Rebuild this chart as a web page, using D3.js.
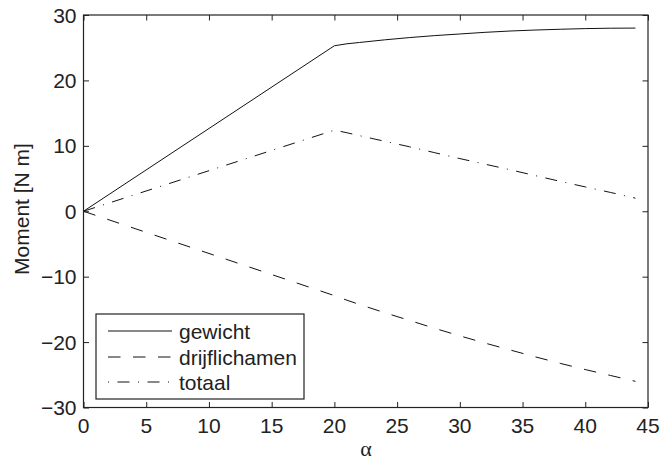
<!DOCTYPE html>
<html>
<head>
<meta charset="utf-8">
<script src="https://cdn.jsdelivr.net/npm/d3@7"></script>
<style>
  html, body { margin: 0; padding: 0; background: #fff; }
  svg { display: block; }
  text { font-family: "Liberation Sans", Arial, Helvetica, sans-serif; fill: #222; }
</style>
</head>
<body>
<svg id="chart" width="662" height="460"></svg>
<script>
// Moment as a function of the angle alpha
const alpha        = [0, 20, 21, 22, 24, 26, 28, 30, 32, 34, 36, 38, 40, 42, 44];
const gewicht      = [0, 25.3, 25.6, 25.8, 26.2, 26.55, 26.85, 27.1, 27.35, 27.55, 27.7, 27.82, 27.92, 27.98, 28.0];
const drijflichamen= [0, -12.9, -13.6, -14.25, -15.5, -16.7, -17.9, -19.05, -20.15, -21.2, -22.25, -23.25, -24.2, -25.1, -26.0];
const totaal       = [0, 12.4, 12.0, 11.55, 10.7, 9.85, 8.95, 8.05, 7.2, 6.35, 5.45, 4.57, 3.72, 2.88, 2.0];

const xTicks = [0, 5, 10, 15, 20, 25, 30, 35, 40, 45];
const yTicks = [-30, -20, -10, 0, 10, 20, 30];

const seriesNames = ["gewicht", "drijflichamen", "totaal"];
const seriesValues = [gewicht, drijflichamen, totaal];
const seriesDash = [null, "12.5,12.5", "12,8.5,1,8.5"];

const svg = d3.select("#chart");
const pLeft = 83.5, pRight = 648, pTop = 15, pBottom = 407.5;

const x = d3.scaleLinear().domain([0, 45]).range([pLeft, pRight]);
const y = d3.scaleLinear().domain([-30, 30]).range([pBottom, pTop]);

const fmt = v => (v < 0 ? "\u2212" + Math.abs(v) : String(v));
const tickLen = 5.5;
const axisColor = "#222";

// plot lines (clipped to the axes box)
svg.append("clipPath").attr("id", "plotclip")
  .append("rect").attr("x", pLeft).attr("y", pTop)
  .attr("width", pRight - pLeft).attr("height", pBottom - pTop);

const line = d3.line()
  .x((d, i) => x(alpha[i]))
  .y(d => y(d));

const plot = svg.append("g").attr("clip-path", "url(#plotclip)");
seriesValues.forEach((vals, k) => {
  plot.append("path")
    .datum(vals)
    .attr("d", line)
    .attr("fill", "none")
    .attr("stroke", "#111")
    .attr("stroke-width", 1)
    .attr("stroke-dasharray", seriesDash[k]);
});

// axes: bottom/left with labels, top/right mirror ticks, ticks point inward
const axB = svg.append("g").attr("transform", `translate(0,${pBottom})`)
  .call(d3.axisBottom(x).tickValues(xTicks).tickSize(-tickLen).tickFormat(""));
const axT = svg.append("g").attr("transform", `translate(0,${pTop})`)
  .call(d3.axisTop(x).tickValues(xTicks).tickSize(-tickLen).tickFormat(""));
const axL = svg.append("g").attr("transform", `translate(${pLeft},0)`)
  .call(d3.axisLeft(y).tickValues(yTicks).tickSize(-tickLen).tickFormat(""));
const axR = svg.append("g").attr("transform", `translate(${pRight},0)`)
  .call(d3.axisRight(y).tickValues(yTicks).tickSize(-tickLen).tickFormat(""));

[axB, axT, axL, axR].forEach(g => {
  g.select(".domain").remove();
  g.selectAll(".tick line").attr("stroke", axisColor).attr("stroke-width", 1);
  g.selectAll("text").remove();
});

// tick labels
xTicks.forEach(v => {
  svg.append("text")
    .attr("x", x(v)).attr("y", pBottom + 25.5)
    .attr("text-anchor", "middle")
    .attr("font-size", 21)
    .text(fmt(v));
});
yTicks.forEach(v => {
  svg.append("text")
    .attr("x", pLeft - 7).attr("y", y(v))
    .attr("dy", "0.36em")
    .attr("text-anchor", "end")
    .attr("font-size", 21)
    .text(fmt(v));
});

// box
svg.append("rect")
  .attr("x", pLeft).attr("y", pTop)
  .attr("width", pRight - pLeft).attr("height", pBottom - pTop)
  .attr("fill", "none").attr("stroke", axisColor).attr("stroke-width", 1.2);

// axis titles
svg.append("text")
  .attr("transform", `translate(29,209) rotate(-90)`)
  .attr("text-anchor", "middle")
  .attr("font-size", 21)
  .text("Moment [N m]");
svg.append("text")
  .attr("x", 366).attr("y", 456)
  .attr("text-anchor", "middle")
  .style("font-family", "'Liberation Serif', 'DejaVu Serif', serif")
  .attr("font-size", 22)
  .text("\u03B1");

// legend
const lg = svg.append("g");
lg.append("rect")
  .attr("x", 96).attr("y", 314).attr("width", 208).attr("height", 85)
  .attr("fill", "#fff").attr("stroke", axisColor).attr("stroke-width", 1.2);
const rowY = [331, 357, 382];
const legendOffset = [0, 0, 20.5];
seriesNames.forEach((name, k) => {
  lg.append("line")
    .attr("x1", 108).attr("x2", 172)
    .attr("y1", rowY[k]).attr("y2", rowY[k])
    .attr("stroke", "#111").attr("stroke-width", 1)
    .attr("stroke-dasharray", seriesDash[k])
    .attr("stroke-dashoffset", legendOffset[k]);
  lg.append("text")
    .attr("x", 179).attr("y", rowY[k] + 7.5)
    .attr("font-size", 21)
    .text(name);
});
</script>
</body>
</html>
